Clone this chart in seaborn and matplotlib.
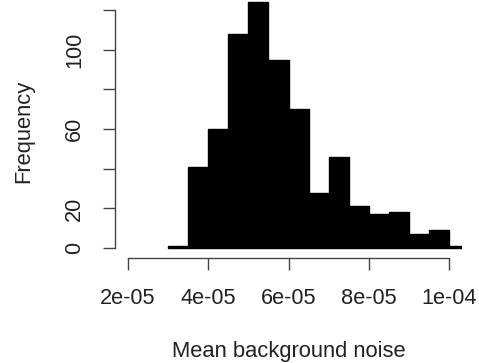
import numpy as np
import seaborn as sns
import matplotlib.pyplot as plt

bin_edges = [3.0e-05, 3.5e-05, 4.0e-05, 4.5e-05, 5.0e-05, 5.5e-05, 6.0e-05, 6.5e-05,
             7.0e-05, 7.5e-05, 8.0e-05, 8.5e-05, 9.0e-05, 9.5e-05, 1.0e-04, 1.05e-04]
counts = [1, 41, 60, 108, 124, 95, 70, 28, 46, 21, 17, 18, 7, 9, 1]

x_ticks = [2e-05, 4e-05, 6e-05, 8e-05, 1e-04]
x_labels = ['2e-05', '4e-05', '6e-05', '8e-05', '1e-04']
y_ticks = [0, 20, 40, 60, 80, 100, 120]
y_labels = ['0', '20', '', '60', '', '100', '']

sns.set_style('white')
plt.rcParams['font.family'] = ['Liberation Sans', 'DejaVu Sans']

centros = [(a + b) / 2 for a, b in zip(bin_edges[:-1], bin_edges[1:])]

fig = plt.figure(figsize=(4.79, 3.63), dpi=100)
ax = fig.add_axes([115 / 479, (363 - 258) / 363, 347 / 479, 258 / 363])

sns.histplot(x=centros, weights=counts, bins=bin_edges, color='black',
             edgecolor='black', linewidth=1.0, alpha=1, ax=ax)

ax.set_xlim(1.68e-05, 1.032e-04)
ax.set_ylim(-4.96, 125)

for lado in ['top', 'right']:
    ax.spines[lado].set_visible(False)
for lado in ['left', 'bottom']:
    ax.spines[lado].set_color('#444444')
    ax.spines[lado].set_linewidth(1.0)
ax.spines['left'].set_bounds(0, 120)
ax.spines['bottom'].set_bounds(2e-05, 1e-04)

ax.set_xticks(x_ticks)
ax.set_xticklabels(x_labels)
ax.set_yticks(y_ticks)
ax.set_yticklabels(y_labels, rotation=90, va='center')
ax.tick_params(axis='both', direction='out', length=8.6, width=1.0, color='#444444',
               labelsize=15.7, labelcolor='#222222', pad=13)
ax.tick_params(axis='both', bottom=True, left=True)

ax.set_xlabel('Mean background noise', fontsize=15.8, color='#222222', va='center')
ax.set_ylabel('Frequency', fontsize=15.8, color='#222222', va='center')
ax.xaxis.set_label_coords(0.5, (258 - 352) / 258)
ax.yaxis.set_label_coords((24 - 115) / 347, 0.49)

plt.savefig('out.png', dpi=100)
